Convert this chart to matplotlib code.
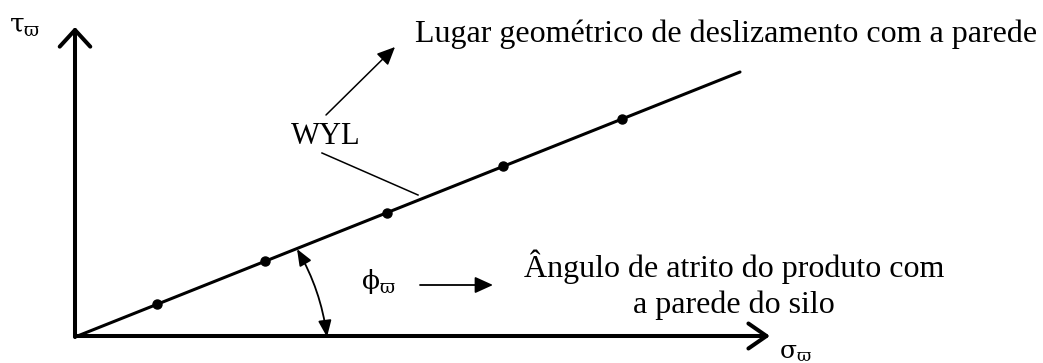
import matplotlib
matplotlib.use("Agg")
import matplotlib.pyplot as plt
from matplotlib.patches import FancyArrowPatch

plt.rcParams['font.family'] = ['Liberation Serif', 'DejaVu Serif']
plt.rcParams['mathtext.fontset'] = 'dejavuserif'

# Wall yield locus test points (normal stress, shear stress)
sigma_w = [82, 190, 312, 428, 547]
tau_w = [33, 76, 124, 171, 218]

# Fitted wall yield locus, drawn from the origin
wyl_sigma = [0, 665]
wyl_tau = [0, 265]

fig = plt.figure(figsize=(10.43, 3.63), dpi=100)
ax = fig.add_axes([0, 0, 1, 1])
ax.set_xlim(-75, 968)
ax.set_ylim(-26, 337)
ax.axis('off')

def arrow(p0, p1, style, lw, **kw):
    a = FancyArrowPatch(p0, p1, arrowstyle=style, lw=lw, color='black',
                        mutation_scale=1, shrinkA=0, shrinkB=0, **kw)
    ax.add_patch(a)

# axes with open arrow heads
arrow((0, 0), (0, 310), '->,head_length=12,head_width=11', 2.9)
arrow((0, 1), (695, 1), '->,head_length=13,head_width=9', 2.9)

# WYL line and measured points
ax.plot(wyl_sigma, wyl_tau, color='black', lw=2.2, solid_capstyle='round')
ax.plot(sigma_w, tau_w, 'o', color='black', ms=6.5)

# axis symbols
ax.text(-66, 309, r'$\mathrm{\tau_{\varpi}}$', fontsize=19, va='center', ha='left')
ax.text(704, -16, r'$\mathrm{\sigma_{\varpi}}$', fontsize=18, va='center', ha='left')

# WYL label with pointers
ax.text(251, 193, 'WYL', fontsize=22, va='baseline', ha='center')
ax.plot([247, 343], [184, 142], color='black', lw=1.1)
arrow((251, 222), (320, 290), '-|>,head_length=11,head_width=5', 1.1)
ax.text(340, 295, 'Lugar geométrico de deslizamento com a parede',
        fontsize=23, ha='left', va='baseline')

# wall friction angle
arrow((222, 88), (252, 0), '<|-|>,head_length=10,head_width=4', 1.3,
      connectionstyle='arc3,rad=-0.1')
ax.text(286, 55, r'$\mathrm{\phi_{\varpi}}$', fontsize=19, va='center', ha='left')
arrow((345, 52), (418, 52), '-|>,head_length=11,head_width=5', 1.3)
ax.text(659, 24, 'Ângulo de atrito do produto com\na parede do silo',
        fontsize=23, ha='center', va='baseline', multialignment='center',
        linespacing=1.3)

fig.savefig('out.png', dpi=100)
